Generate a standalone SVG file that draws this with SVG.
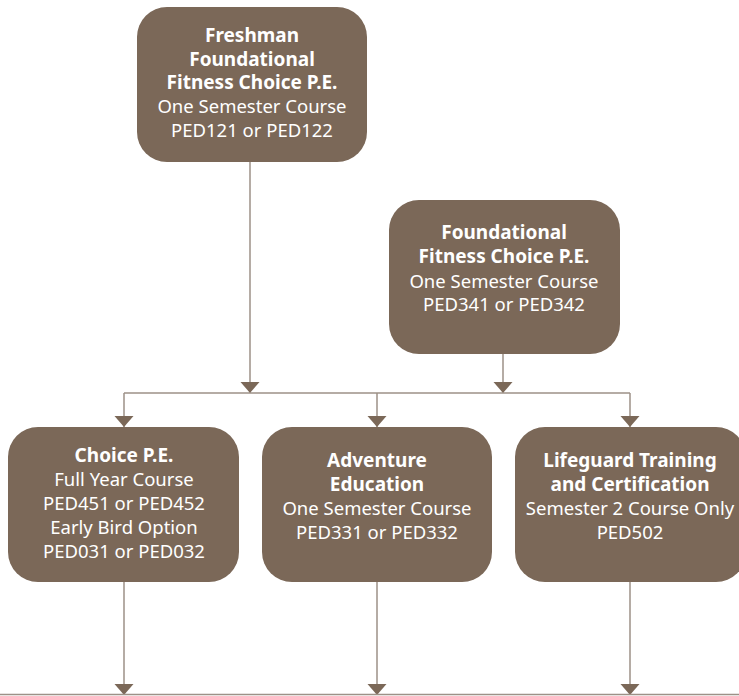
<svg xmlns="http://www.w3.org/2000/svg" width="739" height="696" viewBox="0 0 739 696">
<style>
.node{fill:#7b6858;}
.t{font-family:"Noto Sans","Open Sans",sans-serif;font-size:18.5px;fill:#ffffff;text-anchor:middle;}
.b{font-weight:bold;font-size:19px;}
.c{stroke:#9d9187;stroke-width:1.5;fill:none;}
.a{marker-end:url(#ah);}
</style>
<defs>
<marker id="ah" markerUnits="userSpaceOnUse" markerWidth="12" markerHeight="20" refX="11" refY="10" orient="auto" viewBox="0 0 12 20">
<path d="M0,0.5 L11,10 L0,19.5 Z" fill="#7b6858"/>
</marker>
</defs>
<rect width="739" height="696" fill="#ffffff"/>
<g id="connectors">
<path class="c a" d="M250,162 V393"/>
<path class="c a" d="M503,353 V393"/>
<path class="c" d="M124,393 H630"/>
<path class="c a" d="M124,393 V427"/>
<path class="c a" d="M377,393 V427"/>
<path class="c a" d="M630,393 V427"/>
<path class="c a" d="M124,582 V695"/>
<path class="c a" d="M377,582 V695"/>
<path class="c a" d="M630,582 V695"/>
<path class="c" d="M0,694.5 H739"/>
</g>
<g id="n1">
<rect class="node" x="137" y="7" width="230" height="155" rx="30"/>
<text class="t b" x="252" y="42">Freshman</text>
<text class="t b" x="252" y="65.5">Foundational</text>
<text class="t b" x="252" y="89">Fitness Choice P.E.</text>
<text class="t" x="252" y="113">One Semester Course</text>
<text class="t" x="252" y="137">PED121 or PED122</text>
</g>
<g id="n2">
<rect class="node" x="389" y="200" width="231" height="154" rx="30"/>
<text class="t b" x="504" y="239">Foundational</text>
<text class="t b" x="504" y="263">Fitness Choice P.E.</text>
<text class="t" x="504" y="287.5">One Semester Course</text>
<text class="t" x="504" y="311">PED341 or PED342</text>
</g>
<g id="n3">
<rect class="node" x="8" y="427" width="231" height="155" rx="30"/>
<text class="t b" x="124" y="462">Choice P.E.</text>
<text class="t" x="124" y="486">Full Year Course</text>
<text class="t" x="124" y="510">PED451 or PED452</text>
<text class="t" x="124" y="534">Early Bird Option</text>
<text class="t" x="124" y="557.5">PED031 or PED032</text>
</g>
<g id="n4">
<rect class="node" x="262" y="427" width="230" height="155" rx="30"/>
<text class="t b" x="377" y="467">Adventure</text>
<text class="t b" x="377" y="491">Education</text>
<text class="t" x="377" y="515">One Semester Course</text>
<text class="t" x="377" y="539">PED331 or PED332</text>
</g>
<g id="n5">
<rect class="node" x="515" y="427" width="231" height="155" rx="30"/>
<text class="t b" x="630" y="467">Lifeguard Training</text>
<text class="t b" x="630" y="491">and Certification</text>
<text class="t" x="630" y="515">Semester 2 Course Only</text>
<text class="t" x="630" y="539">PED502</text>
</g>
</svg>
